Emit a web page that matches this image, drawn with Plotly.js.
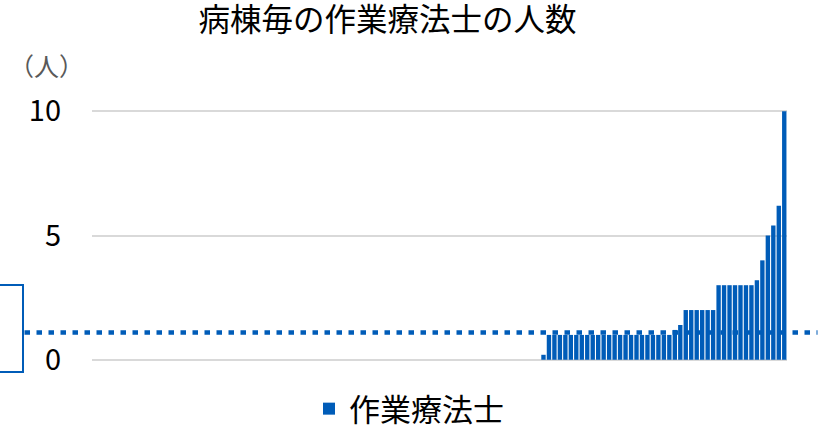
<!DOCTYPE html>
<html>
<head>
<meta charset="utf-8">
<script src="https://cdn.plot.ly/plotly-3.0.1.min.js"></script>
<style>html,body{margin:0;padding:0;background:#fff;}</style>
</head>
<body>
<div id="chart" style="width:826px;height:436px;"></div>
<script>
// Wards (病棟) in ascending order of OT count
const wardValues = [
  0,0,0,0,0,0,0,0,0,0, 0,0,0,0,0,0,0,0,0,0,
  0,0,0,0,0,0,0,0,0,0, 0,0,0,0,0,0,0,0,0,0,
  0,0,0,0,0,0,0,0,0,0, 0,0,0,0,0,0,0,0,0,0,
  0,0,0,0,0,0,0,0,0,0, 0,0,0,0,0,0,0,0,0,0,
  0,0,
  0.2,
  1,1,1,1,1,1,1,1,1,1, 1,1,1,1,1,1,1,1,1,1, 1,1,1,
  1.2,1.4,
  2,2,2,2,2,2,
  3,3,3,3,3,3,3,
  3.2,4,5,5.4,6.2,10
];
const wardLabels = wardValues.map((v, i) => '病棟' + (i + 1));
const seriesName = '作業療法士';
const referenceValue = 1.1;
const referenceLabel = '1病棟あたり';
const yTicks = [0, 5, 10];
const chartTitle = '病棟毎の作業療法士の人数';
const unitLabel = '（人）';

const BLUE = '#005CB8';
const FONT = '"Noto Sans CJK JP", "Noto Sans", sans-serif';

// layout geometry (pixels)
const W = 826, H = 436;
const M = {l: 92, r: 39, t: 110, b: 75};
const plotW = W - M.l - M.r, plotH = H - M.t - M.b;
const px2x = px => (px - M.l) / plotW;
const py2y = py => (H - M.b - py) / plotH;

const trace = {
  type: 'bar',
  x: wardLabels,
  y: wardValues,
  name: seriesName,
  marker: {color: BLUE},
  showlegend: true,
  hoverinfo: 'x+y'
};

const layout = {
  width: W, height: H,
  margin: {l: M.l, r: M.r, t: M.t, b: M.b, pad: 0, autoexpand: false},
  paper_bgcolor: '#fff', plot_bgcolor: '#fff',
  font: {family: FONT, color: '#000'},
  title: {
    text: chartTitle,
    font: {family: FONT, size: 31.5, color: '#000'},
    x: 387.5 / W, xanchor: 'center', xref: 'container',
    y: 1 - 9 / H, yanchor: 'top', yref: 'container'
  },
  bargap: 0.2,
  showlegend: true,
  legend: {
    orientation: 'h',
    x: px2x(309), xanchor: 'left',
    y: py2y(436), yanchor: 'bottom',
    font: {family: FONT, size: 31, color: '#000'},
    bgcolor: 'rgba(0,0,0,0)'
  },
  xaxis: {
    type: 'category',
    range: [-0.5, wardValues.length - 0.5],
    showticklabels: false, showgrid: false, zeroline: false, showline: false, ticks: ''
  },
  yaxis: {
    range: [-0.05, 10.05],
    tickvals: yTicks,
    ticktext: yTicks.map(String),
    tickfont: {family: FONT, size: 29, color: '#000'},
    ticks: '',
    ticklabelstandoff: 30,
    showgrid: true, gridcolor: '#D9D9D9', gridwidth: 2,
    zeroline: false, showline: false
  },
  shapes: [
    {
      type: 'line', xref: 'paper', yref: 'y',
      x0: px2x(24.5), x1: px2x(817.5), y0: referenceValue, y1: referenceValue,
      line: {color: BLUE, width: 4.5, dash: '5.5px,6.5px'}
    },
    {
      type: 'rect', xref: 'paper', yref: 'paper',
      x0: px2x(-40), x1: px2x(23), y0: py2y(372), y1: py2y(285),
      line: {color: BLUE, width: 2}, fillcolor: 'rgba(0,0,0,0)'
    }
  ],
  annotations: [
    {
      text: unitLabel, xref: 'paper', yref: 'paper',
      x: px2x(46), y: py2y(65), xanchor: 'center', yanchor: 'middle',
      showarrow: false,
      font: {family: FONT, size: 25, color: '#595959'}
    },
    {
      text: referenceLabel, xref: 'paper', yref: 'paper',
      x: px2x(4), y: py2y(308), xanchor: 'right', yanchor: 'middle',
      showarrow: false,
      font: {family: FONT, size: 24, color: '#000'}
    }
  ]
};

Plotly.newPlot('chart', [trace], layout, {displayModeBar: false, staticPlot: true});
</script>
</body>
</html>
